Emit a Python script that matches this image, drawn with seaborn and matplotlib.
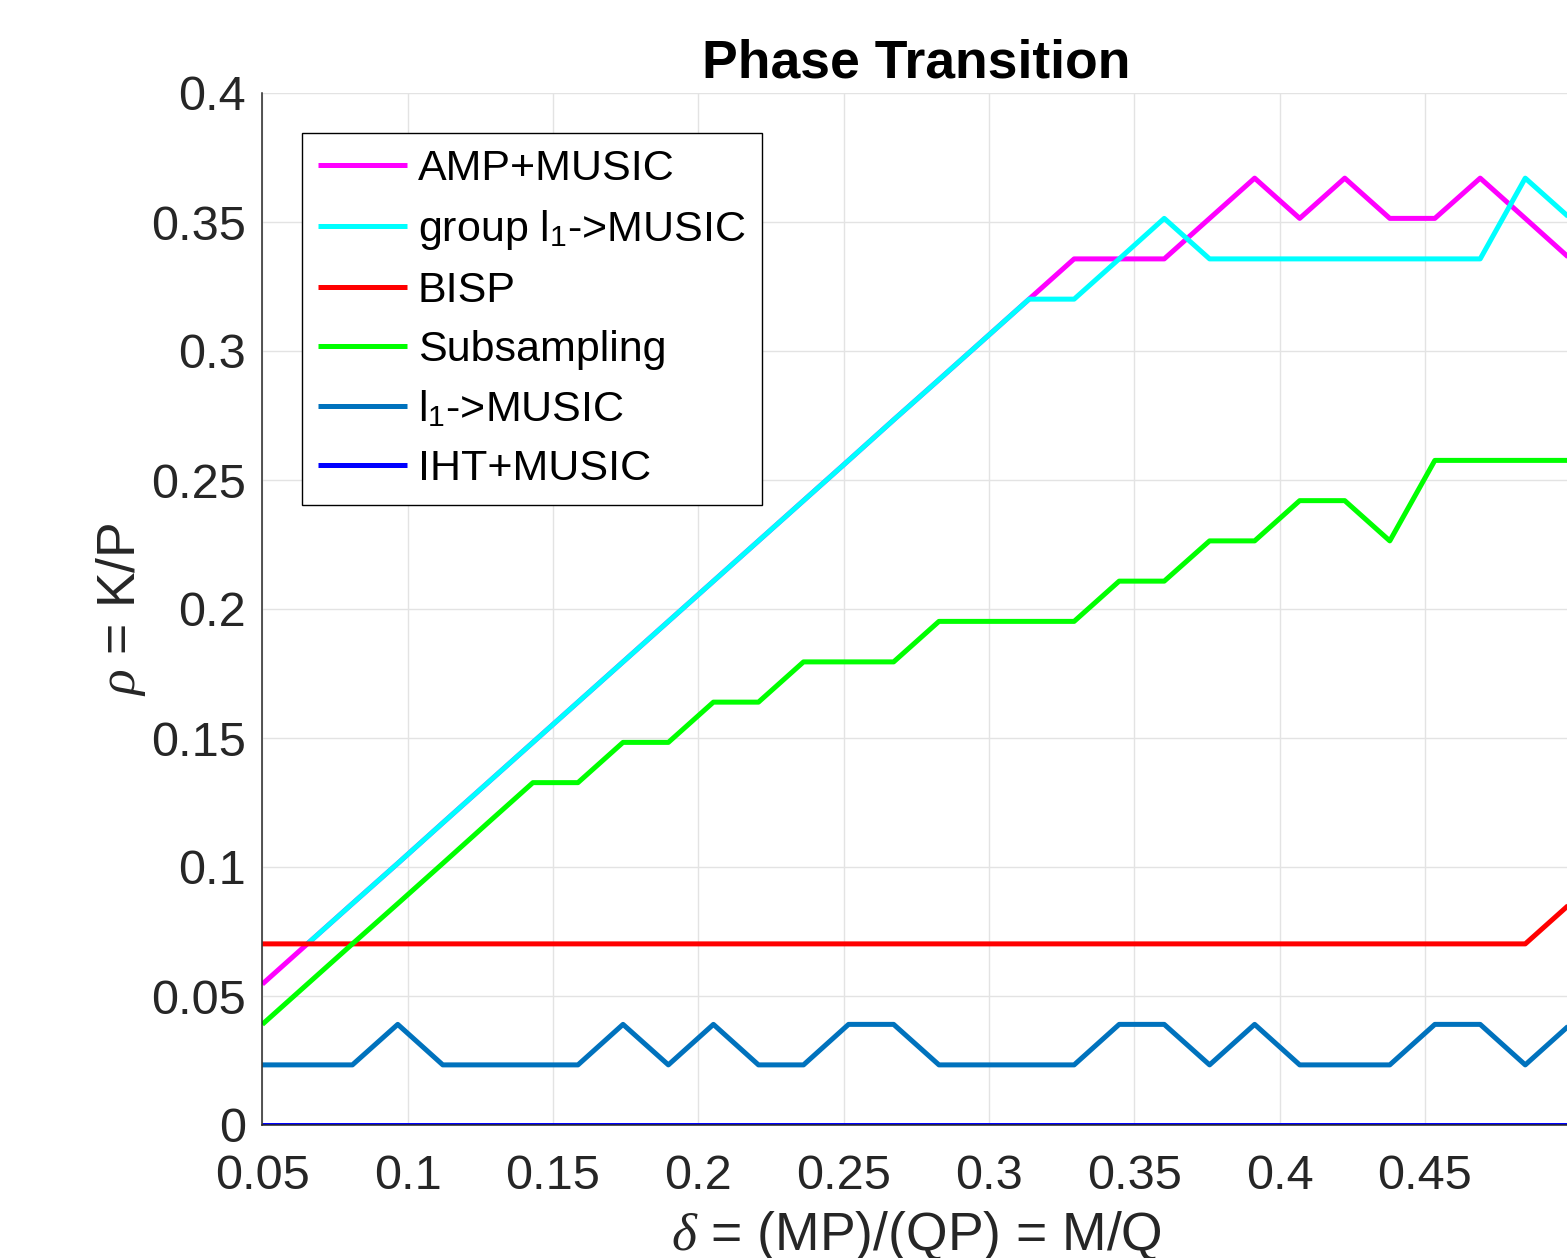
import numpy as np
import pandas as pd
import matplotlib
matplotlib.use("Agg")
import matplotlib.pyplot as plt
import seaborn as sns

# ---------------- data ----------------
delta = [0.0500, 0.0655, 0.0810, 0.0966, 0.1121, 0.1276, 0.1431, 0.1586, 0.1741, 0.1897,
         0.2052, 0.2207, 0.2362, 0.2517, 0.2672, 0.2828, 0.2983, 0.3138, 0.3293, 0.3448,
         0.3603, 0.3759, 0.3914, 0.4069, 0.4224, 0.4379, 0.4534, 0.4690, 0.4845, 0.5000]

amp_music = [0.0546, 0.0702, 0.0858, 0.1014, 0.1171, 0.1327, 0.1483, 0.1639, 0.1795, 0.1952,
             0.2108, 0.2264, 0.2420, 0.2576, 0.2733, 0.2889, 0.3045, 0.3201, 0.3357, 0.3357,
             0.3357, 0.3514, 0.3670, 0.3514, 0.3670, 0.3514, 0.3514, 0.3670, 0.3514, 0.3357]

group_l1_music = [np.nan, 0.0702, 0.0858, 0.1014, 0.1171, 0.1327, 0.1483, 0.1639, 0.1795, 0.1952,
                  0.2108, 0.2264, 0.2420, 0.2576, 0.2733, 0.2889, 0.3045, 0.3201, 0.3201, 0.3357,
                  0.3514, 0.3357, 0.3357, 0.3357, 0.3357, 0.3357, 0.3357, 0.3357, 0.3670, 0.3514]

bisp = [0.0702, 0.0702, 0.0702, 0.0702, 0.0702, 0.0702, 0.0702, 0.0702, 0.0702, 0.0702,
        0.0702, 0.0702, 0.0702, 0.0702, 0.0702, 0.0702, 0.0702, 0.0702, 0.0702, 0.0702,
        0.0702, 0.0702, 0.0702, 0.0702, 0.0702, 0.0702, 0.0702, 0.0702, 0.0702, 0.0858]

subsampling = [0.0390, 0.0546, 0.0702, 0.0858, 0.1014, 0.1171, 0.1327, 0.1327, 0.1483, 0.1483,
               0.1639, 0.1639, 0.1795, 0.1795, 0.1795, 0.1952, 0.1952, 0.1952, 0.1952, 0.2108,
               0.2108, 0.2264, 0.2264, 0.2420, 0.2420, 0.2264, 0.2576, 0.2576, 0.2576, 0.2576]

l1_music = [0.0233, 0.0233, 0.0233, 0.0390, 0.0233, 0.0233, 0.0233, 0.0233, 0.0390, 0.0233,
            0.0390, 0.0233, 0.0233, 0.0390, 0.0390, 0.0233, 0.0233, 0.0233, 0.0233, 0.0390,
            0.0390, 0.0233, 0.0390, 0.0233, 0.0233, 0.0233, 0.0390, 0.0390, 0.0233, 0.0390]

iht_music = [0.0, 0.0, 0.0, 0.0, 0.0, 0.0, 0.0, 0.0, 0.0, 0.0,
             0.0, 0.0, 0.0, 0.0, 0.0, 0.0, 0.0, 0.0, 0.0, 0.0,
             0.0, 0.0, 0.0, 0.0, 0.0, 0.0, 0.0, 0.0, 0.0, 0.0]

series_labels = ["AMP+MUSIC", r"group $\mathrm{l}_1$->MUSIC", "BISP", "Subsampling",
                 r"$\mathrm{l}_1$->MUSIC", "IHT+MUSIC"]
series_colors = ["#ff00ff", "#00ffff", "#ff0000", "#00ff00", "#0072bd", "#0000ff"]

xticks = [0.05, 0.1, 0.15, 0.2, 0.25, 0.3, 0.35, 0.4, 0.45, 0.5]
xtick_labels = ["0.05", "0.1", "0.15", "0.2", "0.25", "0.3", "0.35", "0.4", "0.45", ""]
yticks = [0, 0.05, 0.1, 0.15, 0.2, 0.25, 0.3, 0.35, 0.4]
ytick_labels = ["0", "0.05", "0.1", "0.15", "0.2", "0.25", "0.3", "0.35", "0.4"]

# ---------------- style ----------------
sns.set_style("white")
plt.rcParams["font.family"] = ["Liberation Sans", "DejaVu Sans"]
plt.rcParams["mathtext.fontset"] = "custom"
plt.rcParams["mathtext.rm"] = "Liberation Sans"
plt.rcParams["mathtext.it"] = "Liberation Serif:italic"
plt.rcParams["mathtext.bf"] = "Liberation Sans:bold"

fig = plt.figure(figsize=(15.67, 12.58), dpi=100)
ax = fig.add_axes([262.3 / 1567, 133 / 1258, 1308 / 1567, 1032 / 1258])

all_series = [amp_music, group_l1_music, bisp, subsampling, l1_music, iht_music]
for vals, lab, col in zip(all_series, series_labels, series_colors):
    df = pd.DataFrame({"delta": delta, "rho": vals}).dropna()
    sns.lineplot(data=df, x="delta", y="rho", ax=ax, color=col, linewidth=3.6,
                 label=lab, estimator=None, sort=False,
                 solid_joinstyle="round", solid_capstyle="butt")

ax.set_xlim(0.05, 0.5)
ax.set_ylim(0, 0.4)
ax.set_xticks(xticks)
ax.set_xticklabels(xtick_labels)
ax.set_yticks(yticks)
ax.set_yticklabels(ytick_labels)

ax.grid(True, color="#e3e3e3", linewidth=1.0)
ax.set_axisbelow(True)
for s in ["top", "right"]:
    ax.spines[s].set_visible(False)
for s in ["left", "bottom"]:
    ax.spines[s].set_color("#262626")
    ax.spines[s].set_linewidth(1.1)

ax.tick_params(axis="both", direction="in", length=8, width=0.9, colors="#262626",
               labelsize=35)
ax.tick_params(axis="y", pad=12)
ax.tick_params(axis="x", pad=21)

ax.set_title("Phase Transition", fontsize=38.5, fontweight="bold", color="black", pad=11)
ax.set_xlabel(r"$\delta$ = (MP)/(QP) = M/Q", fontsize=38.5, color="#262626", labelpad=7)
ax.set_ylabel(r"$\rho$ = K/P", fontsize=38.5, color="#262626", labelpad=2)

leg = ax.legend(loc="upper left", bbox_to_anchor=(302 / 1567, 1 - 133 / 1258),
                bbox_transform=fig.transFigure, borderaxespad=0,
                fontsize=31, frameon=True, fancybox=False, framealpha=1,
                edgecolor="black", handlelength=2.05, handletextpad=0.26,
                labelspacing=0.44, borderpad=0.38)
leg.get_frame().set_linewidth(1.0)
for t in leg.get_texts():
    t.set_color("black")

fig.savefig("out.png", dpi=100)
